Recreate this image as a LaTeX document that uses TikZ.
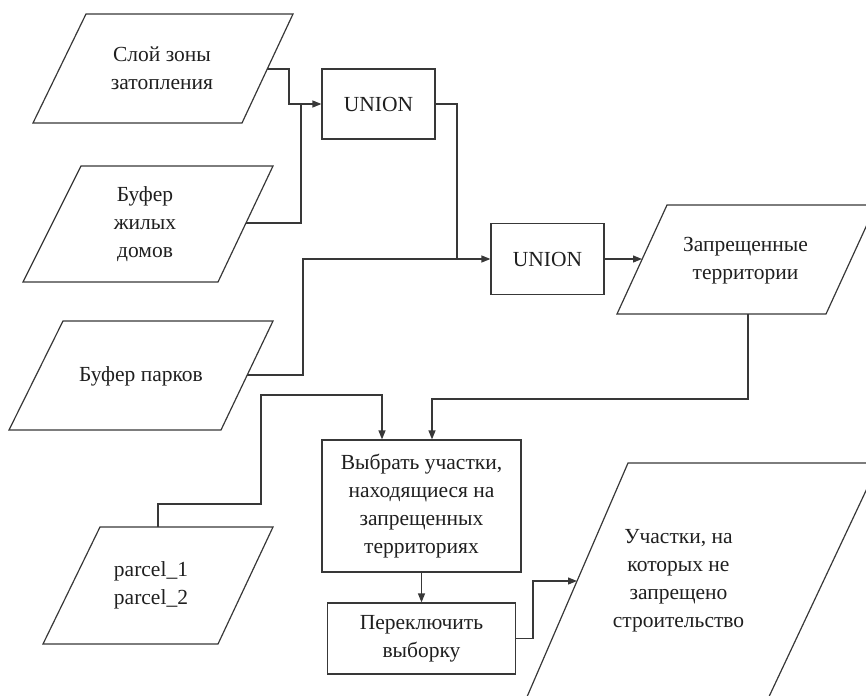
\documentclass[tikz,border=0pt]{standalone}
\usepackage{fontspec}
\setmainfont{Liberation Serif}
\usetikzlibrary{arrows.meta}
\begin{document}
\begin{tikzpicture}[x=1pt,y=-1pt,
  line/.style={draw=black!78, line width=1.2pt},
  arr/.style={line, -{Triangle[length=9pt,width=7pt]}},
  txt/.style={align=center, font=\fontsize{21.5}{28}\selectfont, inner sep=0pt, text=black!88},
  procbox/.style={line, txt, align=center}]
\useasboundingbox (0,0) rectangle (866,695);
\clip (0,0) rectangle (866,695);

% ---- data (parallelogram) shapes ----
\draw[line] (86,14) -- (293,14) -- (242,123) -- (33,123) -- cycle;
\node[txt] (sloy) at (162,68) {Слой зоны\\затопления};
\coordinate (sloyout) at (267,69);

\draw[line] (81,166) -- (273,166) -- (218,282) -- (23,282) -- cycle;
\node[txt] (zhil) at (145,224) {Буфер\\жилых\\домов};
\coordinate (zhilout) at (246,223);

\draw[line] (63,321) -- (273,321) -- (221,430) -- (9,430) -- cycle;
\node[txt] (park) at (141,376) {Буфер парков};
\coordinate (parkout) at (247,375);

\draw[line] (100,527) -- (273,527) -- (218,644) -- (43,644) -- cycle;
\node[txt] (parcel) at (151,585.5) {parcel\_1\\parcel\_2};
\coordinate (parcelout) at (158,527);

\draw[line] (667,205) -- (876,205) -- (826,314) -- (617,314) -- cycle;
\node[txt] (zapr) at (745.5,261) {Запрещенные\\территории};
\coordinate (zaprin) at (642,259);
\coordinate (zaprout) at (748,314);

\draw[line] (628,463) -- (879,463) -- (758,720) -- (517,720) -- cycle;
\node[txt] (res) at (678.5,580.5) {Участки, на\\которых не\\запрещено\\строительство};
\coordinate (resin) at (577,581);

% ---- process boxes ----
\node[procbox, minimum width=113pt, minimum height=70pt] (u1) at (378.5,104) {UNION};
\node[procbox, minimum width=113pt, minimum height=71pt] (u2) at (547.5,259) {UNION};
\node[procbox, minimum width=199pt, minimum height=132pt] (sel) at (421.5,506)
  {Выбрать участки,\\находящиеся на\\запрещенных\\территориях};
\node[procbox, minimum width=188pt, minimum height=71pt] (sw) at (421.5,638.5)
  {Переключить\\выборку};

% ---- connectors ----
\draw[arr] (sloyout) -- (289,69) -- (289,104) -- (u1.west);
\draw[line] (zhilout) -| (301,104);
\draw[line] (u1.east) -| (457,259);
\draw[arr] (parkout) -| (303,259) -- (u2.west);
\draw[arr] (u2.east) -- (zaprin);
\draw[arr] (zaprout) -- (748,399) -| ([xshift=10.5pt]sel.north);
\draw[arr] (parcelout) -- (158,504) -- (261,504) -- (261,395) -| ([xshift=-39.5pt]sel.north);
\draw[arr] (sel.south) -- (sw.north);
\draw[arr] (sw.east) -- (533,638.5) |- (resin);
\end{tikzpicture}
\end{document}
